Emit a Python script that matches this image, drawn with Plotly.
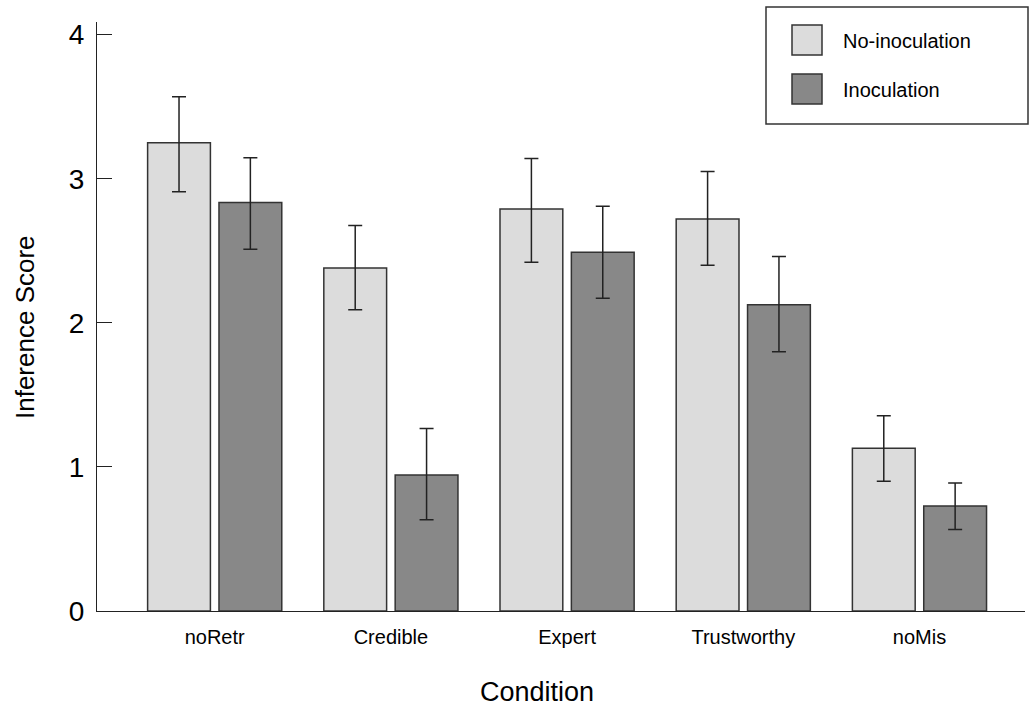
import plotly.graph_objects as go

# ---- data ----
conditions = ["noRetr", "Credible", "Expert", "Trustworthy", "noMis"]
series_names = ["No-inoculation", "Inoculation"]
no_inoc_mean = [3.25, 2.38, 2.79, 2.72, 1.13]
no_inoc_upper = [3.57, 2.675, 3.14, 3.05, 1.355]
no_inoc_lower = [2.91, 2.09, 2.42, 2.40, 0.90]
inoc_mean = [2.835, 0.944, 2.49, 2.125, 0.728]
inoc_upper = [3.145, 1.266, 2.81, 2.46, 0.889]
inoc_lower = [2.51, 0.634, 2.17, 1.80, 0.566]
y_ticks = [0, 1, 2, 3, 4]

FONT = "Arial, Liberation Sans, sans-serif"
LIGHT = "#dcdcdc"
DARK = "#888888"
EDGE = "#333333"

W, H = 1032, 708
ML, MR, MT, MB = 97, 7, 22, 97


def px_to_paper(x, y):
    return (x - ML) / (W - ML - MR), (H - MB - y) / (H - MT - MB)


def err(mean, up, lo):
    return dict(type="data", symmetric=False,
                array=[u - m for u, m in zip(up, mean)],
                arrayminus=[m - l for m, l in zip(mean, lo)],
                color="#222222", thickness=1.5, width=7)


fig = go.Figure()
fig.add_trace(go.Bar(x=conditions, y=no_inoc_mean, name=series_names[0],
                     marker=dict(color=LIGHT, line=dict(color=EDGE, width=1.5)),
                     error_y=err(no_inoc_mean, no_inoc_upper, no_inoc_lower),
                     showlegend=False))
fig.add_trace(go.Bar(x=conditions, y=inoc_mean, name=series_names[1],
                     marker=dict(color=DARK, line=dict(color=EDGE, width=1.5)),
                     error_y=err(inoc_mean, inoc_upper, inoc_lower),
                     showlegend=False))

# custom legend (box + large swatches)
shapes = []
x0, y0 = px_to_paper(766, 124)
x1, y1 = px_to_paper(1028, 7)
shapes.append(dict(type="rect", xref="paper", yref="paper", x0=x0, y0=y0, x1=x1, y1=y1,
                   line=dict(color="#333333", width=1.5), fillcolor="white"))
annotations = []
for i, (nm, col) in enumerate(zip(series_names, [LIGHT, DARK])):
    top = 25 + i * 49
    sx0, sy0 = px_to_paper(792, top + 30)
    sx1, sy1 = px_to_paper(822, top)
    shapes.append(dict(type="rect", xref="paper", yref="paper", x0=sx0, y0=sy0, x1=sx1, y1=sy1,
                       line=dict(color=EDGE, width=1.5), fillcolor=col))
    tx, ty = px_to_paper(841, top + 16)
    annotations.append(dict(text=nm, xref="paper", yref="paper", x=tx, y=ty,
                            xanchor="left", yanchor="middle", showarrow=False,
                            font=dict(family=FONT, size=20, color="black")))

# axis titles
ax_x, ax_y = px_to_paper(537, 692)
annotations.append(dict(text="Condition", xref="paper", yref="paper", x=ax_x, y=ax_y,
                        xanchor="center", yanchor="middle", showarrow=False,
                        font=dict(family=FONT, size=27, color="black")))
ay_x, ay_y = px_to_paper(25, 327)
annotations.append(dict(text="Inference Score", xref="paper", yref="paper", x=ay_x, y=ay_y,
                        xanchor="center", yanchor="middle", showarrow=False, textangle=-90,
                        font=dict(family=FONT, size=26, color="black")))

fig.update_layout(
    width=W, height=H,
    margin=dict(l=ML, r=MR, t=MT, b=MB),
    paper_bgcolor="white", plot_bgcolor="white",
    barmode="group", bargap=0.19, bargroupgap=0.12,
    font=dict(family=FONT, color="black"),
    shapes=shapes, annotations=annotations,
    showlegend=False,
)
fig.update_xaxes(range=[-0.668, 4.599], showline=True, linecolor="#222222", linewidth=1.2,
                 ticks="", showgrid=False, zeroline=False, ticklabelstandoff=8,
                 tickfont=dict(family=FONT, size=20, color="black"))
fig.update_yaxes(range=[0, 4.088], tickvals=y_ticks, showline=True, linecolor="#222222",
                 linewidth=1.2, ticks="inside", ticklen=15, tickcolor="#222222", tickwidth=1.2,
                 showgrid=False, zeroline=False, ticklabelstandoff=6,
                 tickfont=dict(family=FONT, size=28, color="black"))

fig.write_html("out.html", config={"displayModeBar": False},
               post_script="document.body.style.margin='0';document.body.style.overflow='hidden';")
